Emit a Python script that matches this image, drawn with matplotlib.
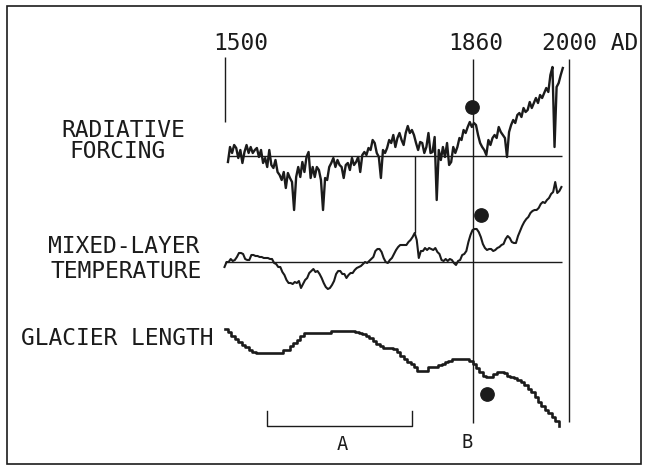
#!/usr/bin/env python3

"""Radiative forcing, mixed-layer temperature and glacier length, 1500-2000 AD."""

import matplotlib
matplotlib.use("Agg")
import matplotlib.pyplot as plt
import numpy as np
from matplotlib.patches import Rectangle
from matplotlib.transforms import offset_copy

W, H = 645, 468
INK = "#1b1b1b"
FONT = "DejaVu Sans Mono"

# Horizontal scale of the drawing: pixel column of 1500 AD and pixels per year.
X1500, PX_PER_YEAR = 224.5, 0.689

# Radiative forcing, 3-year steps from 1505 (relative units, up = warming).
FORCING_START, FORCING_STEP = 1505, 3
FORCING = [
    -6, 9, 3, 11, 8, -2, 6, -7, 4, 11, 3, 9, 3, 6, 8, -1, 6, -7, -2, -11,
    6, -9, -12, -4, -16, -19, -24, -16, -32, -17, -22, -26, -54, -21, -11, -21, -6, -16, -1, 4,
    -22, -11, -21, -11, -14, -24, -54, -22, -24, -11, -7, -2, -11, -4, -9,
    -11, -22, -9, -7, -14, -2, -9, -6, -1, -16, 1, 4, 1, 8, 6, 16, 13, 3, -1, -22,
    6, 3, 8, 16, 13, 21, 9, 18, 23, 16, 11, 23, 30, 23, 26, 21, 13, 6, 14, 13,
    3, 9, 23, 3, 4, 19, -44, 6, -4, 9, -1, 13, -9, -6, 9, 3,
    9, 18, 16, 26, 23, 29, 34, 29, 33, 31, 21, 13, 9, 6, 1, 16, 11, 18, 21, 18,
    29, 24, 21, 18, -1, 24, 31, 36, 33, 41, 43, 39, 48, 44, 46, 54, 48, 53, 58, 53,
    61, 58, 63, 68, 64, 81, 89, 9, 69, 73, 81, 88,
]

# Mixed-layer temperature, 3-year steps from 1500 (relative units).
TEMP_START, TEMP_STEP = 1500, 3
TEMPERATURE = [
    -5, 0, 0, 3, 1, 2, 5, 9, 9, 8, 3, 2, 2, 7, 7, 6, 6, 5, 5, 4,
    4, 4, 3, 3, -1, -2, -5, -5, -10, -13, -18, -21, -21, -22, -20, -21, -19, -26, -22, -18,
    -16, -11, -9, -7, -10, -9, -12, -16, -21, -25, -27, -26, -23, -19, -12, -9, -9,
    -12, -12, -16, -13, -11, -11, -8, -6, -5, -4, -2, 0, -1, 1, 3, 5, 11, 13, 13, 10,
    4, 0, -1, 2, 4, 8, 12, 15, 17, 17, 17, 17, 20, 22, 25, 29, 22, 4, 11, 11,
    14, 12, 14, 13, 12, 14, 10, 8, 2, 1, 3, 1, 3, 2, -1, -3,
    1, 2, 7, 8, 11, 20, 27, 32, 33, 33, 30, 25, 18, 14, 12, 13, 13, 11, 12, 14,
    15, 17, 18, 23, 26, 24, 20, 19, 19, 26, 31, 36, 40, 43, 45, 49, 51, 52, 52, 54,
    58, 60, 59, 62, 64, 68, 70, 80, 69, 71, 75,
]

# Glacier length, 5-year steps from 1500 (relative units).
GLACIER_START, GLACIER_STEP = 1500, 5
GLACIER = [
    97, 94, 90, 87, 84, 81, 79, 76, 74, 73, 73, 73, 73, 73, 73, 73, 73, 76, 76, 80,
    83, 86, 90, 93, 93, 93, 93, 93, 93, 93, 93, 95, 95, 95, 95, 95, 95, 95, 94, 93,
    92, 90, 88, 85, 82, 80, 78, 78, 78, 77, 74, 70, 67, 64, 62, 59, 55, 55, 55, 59,
    59, 59, 61, 62, 64, 65, 67, 67, 67, 67, 67, 65, 62, 58, 54, 50, 49, 49, 52, 54,
    54, 53, 50, 49, 48, 46, 44, 41, 37, 34, 29, 24, 20, 16, 13, 9, 5, 0,
]

LABEL_YEARS = [1500, 1860, 2000]
LABEL_TEXTS = ["1500", "1860", "2000 AD"]
PERIOD_A = (1562, 1772)
LINK_YEAR = 1776
DOT_YEARS = [1859, 1873, 1881]

# Layout (pixel rows of each panel's zero line, counted from the top).
ROW_FORCING, ROW_TEMP, ROW_GLACIER = 156, 262, 426


def years(start, step, values):
    return start + step*np.arange(len(values))


def ftext(fig, x, y, s, size=16.5, ha="center"):
    fig.text(x/W, 1 - y/H, s, ha=ha, va="baseline", fontsize=size,
             family=FONT, color=INK)


def main():
    fig = plt.figure(figsize=(W/100, H/100), dpi=100, facecolor="white")
    ax = fig.add_axes([0, 0, 1, 1])
    ax.set_xlim(1500 - X1500/PX_PER_YEAR, 1500 + (W - X1500)/PX_PER_YEAR)
    ax.set_ylim(H, 0)
    ax.axis("off")

    yf, f = years(FORCING_START, FORCING_STEP, FORCING), np.array(FORCING)
    yt, t = years(TEMP_START, TEMP_STEP, TEMPERATURE), np.array(TEMPERATURE)
    yg, g = years(GLACIER_START, GLACIER_STEP, GLACIER), np.array(GLACIER)

    ax.plot(yf, ROW_FORCING - f, color=INK, lw=1.7)
    ax.plot(yt, ROW_TEMP - t, color=INK, lw=1.5)
    ax.plot(yg, ROW_GLACIER - g, color=INK, lw=1.9, drawstyle="steps-post")

    # zero lines and reference years
    ax.hlines(ROW_FORCING, 1505, 1990, color=INK, lw=1.0)
    ax.hlines(ROW_TEMP, 1500, 1990, color=INK, lw=1.0)
    ax.vlines(LABEL_YEARS[0], 57, 122, color=INK, lw=1.0)
    ax.vlines(LABEL_YEARS[1], 59, 423, color=INK, lw=1.0)
    ax.vlines(LABEL_YEARS[2], 59, 422, color=INK, lw=1.0)
    peak = t[yt == LINK_YEAR][0]
    ax.vlines(LINK_YEAR, ROW_FORCING, ROW_TEMP - peak, color=INK, lw=1.0)

    # period A bracket
    a0, a1 = PERIOD_A
    ax.plot([a0, a0, a1, a1], [411, 426, 426, 411], color=INK, lw=1.0)

    # response dots beside each curve
    curves = [(yf, ROW_FORCING - f, -20), (yt, ROW_TEMP - t, -24),
              (yg, ROW_GLACIER - g, 17)]
    for year, (xs, ys, dy) in zip(DOT_YEARS, curves):
        y0 = np.interp(year, xs, ys)
        tr = offset_copy(ax.transData, fig=fig, y=-dy, units="dots")
        ax.plot(year, y0, "o", ms=9.6, color=INK, transform=tr)

    for x, s in zip([241, 476, 590], LABEL_TEXTS):
        ftext(fig, x, 50, s)
    ftext(fig, 123.5, 137, "RADIATIVE")
    ftext(fig, 117.5, 158, "FORCING")
    ftext(fig, 124, 253, "MIXED-LAYER")
    ftext(fig, 126, 278, "TEMPERATURE")
    ftext(fig, 117.5, 345, "GLACIER LENGTH")
    ftext(fig, 342, 450, "A", size=13.5)
    ftext(fig, 467, 448, "B", size=13.5)

    fig.patches.append(Rectangle((7/W, 1 - 464/H), 634/W, 458/H, fill=False,
                                 lw=1.2, edgecolor=INK, transform=fig.transFigure))
    fig.savefig("out.png", dpi=100)
    plt.close(fig)


if __name__ == "__main__":
    main()
